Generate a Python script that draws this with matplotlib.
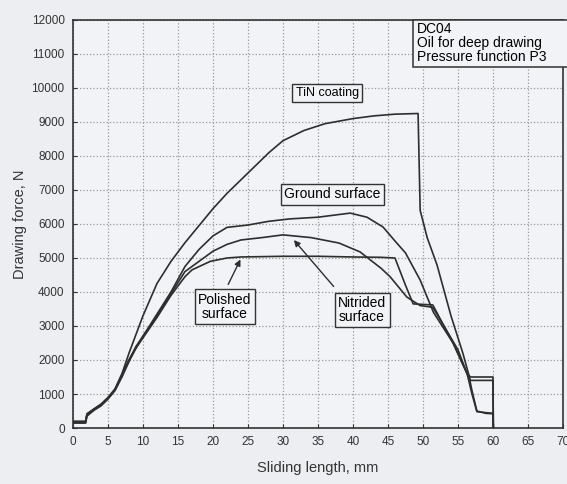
import numpy as np
import matplotlib.pyplot as plt
from matplotlib.patches import Rectangle

plt.rcParams['font.family'] = ['Liberation Sans', 'DejaVu Sans']

# sliding length (mm) / drawing force (N)
tin_x = [0, 1.8, 2.0, 3, 4, 5, 6, 7, 8, 9, 10, 12, 14, 16, 18, 20, 22, 24, 26, 28, 30,
         33, 36, 40, 43, 46, 49.3, 49.6, 50.6, 52, 54, 55.7, 56.5, 57, 57.7, 59, 60, 60.05]
tin_y = [200, 200, 420, 560, 700, 900, 1150, 1600, 2200, 2750, 3300, 4250, 4900, 5450, 5950,
         6450, 6900, 7300, 7700, 8100, 8450, 8750, 8950, 9100, 9180, 9230, 9250, 6400, 5600,
         4800, 3300, 2200, 1600, 1100, 500, 430, 420, 0]

ground_x = [0, 1.8, 2.0, 3, 4, 5, 6, 7, 8, 9, 10, 12, 14, 16, 18, 20, 22, 25, 28, 31, 35,
            39.6, 42, 44.3, 46, 47.5, 49.6, 51.5, 54.3, 56.3, 56.8, 60, 60.05]
ground_y = [150, 150, 350, 520, 650, 850, 1100, 1500, 1950, 2350, 2700, 3350, 4000, 4750,
            5250, 5650, 5900, 5970, 6080, 6150, 6200, 6320, 6200, 5910, 5500, 5150, 4350,
            3400, 2500, 1600, 1500, 1500, 0]

nitrided_x = [0, 1.8, 2.0, 3, 4, 5, 6, 7, 8, 9, 10, 12, 14, 16, 18, 20, 22, 24, 27, 30, 34,
              38, 41, 44, 45.3, 47.7, 49.6, 51.4, 53, 55, 56.3, 57, 57.7, 60, 60.05]
nitrided_y = [180, 180, 400, 560, 690, 880, 1130, 1560, 2000, 2400, 2700, 3300, 3950, 4600,
              4900, 5200, 5400, 5530, 5600, 5680, 5600, 5440, 5180, 4700, 4450, 3850, 3600,
              3550, 3000, 2300, 1600, 1000, 480, 430, 0]

polished_x = [0, 1.8, 2.0, 3, 4, 5, 6, 7, 8, 9, 10, 12, 14, 16, 17, 19.6, 22, 24, 30, 35,
              40, 44, 46, 47.5, 48.6, 51.4, 53, 54.3, 56.3, 56.8, 60, 60.05]
polished_y = [150, 150, 380, 540, 680, 880, 1120, 1550, 2000, 2350, 2650, 3250, 3900, 4450,
              4650, 4900, 5000, 5030, 5050, 5050, 5030, 5020, 5000, 4200, 3650, 3620, 3000,
              2500, 1600, 1400, 1400, 0]

x_ticks = np.arange(0, 75, 5)
y_ticks = np.arange(0, 13000, 1000)

fig = plt.figure(figsize=(5.67, 4.84), dpi=100, facecolor='#eceef2')
ax = fig.add_axes([0.1287, 0.1157, 0.8642, 0.843], facecolor='#f1f3f6')

lc = '#2e2e2e'
ax.plot(tin_x, tin_y, color=lc, lw=1.2)
ax.plot(ground_x, ground_y, color=lc, lw=1.2)
ax.plot(nitrided_x, nitrided_y, color=lc, lw=1.2)
ax.plot(polished_x, polished_y, color=lc, lw=1.2)

ax.set_xlim(0, 70)
ax.set_ylim(0, 12000)
ax.set_xticks(x_ticks)
ax.set_yticks(y_ticks)
ax.tick_params(direction='in', length=3, labelsize=8.5, colors='#333333')
ax.tick_params(axis='x', pad=6)
ax.tick_params(axis='y', pad=6)
ax.grid(True, color='#9a9a9a', linestyle=':', linewidth=0.9)
for s in ax.spines.values():
    s.set_color('#333333')
    s.set_linewidth(1.2)

ax.set_xlabel("Sliding length, mm", fontsize=10.5, color='#333333', labelpad=9)
ax.set_ylabel("Drawing force, N", fontsize=10.5, color='#333333', labelpad=3)

box = dict(boxstyle='square,pad=0.25', facecolor='#f1f3f6', edgecolor='#333333', lw=1)
ax.text(36.3, 9850, "TiN coating", fontsize=9, ha='center', va='center', bbox=box)
ax.text(37.1, 6880, "Ground surface", fontsize=10, ha='center', va='center', bbox=box)
ax.text(21.7, 3560, "Polished\nsurface", fontsize=10, ha='center', va='center',
        linespacing=1.0, bbox=box)
ax.text(41.3, 3470, "Nitrided\nsurface", fontsize=10, ha='center', va='center',
        linespacing=1.0, bbox=box)

arrow = dict(arrowstyle='-|>', color=lc, lw=1.0, mutation_scale=9)
ax.annotate("", xy=(24.1, 5030), xytext=(22.0, 4150), arrowprops=arrow)
ax.annotate("", xy=(31.3, 5590), xytext=(37.5, 4100), arrowprops=arrow)

# info box running off the right edge, top on the frame
ax.add_patch(Rectangle((48.6, 10620), 30, 1380, facecolor='#f1f3f6', edgecolor='#333333',
                       lw=1.1, clip_on=False, zorder=3))
ax.text(49.2, 11950, "DC04\nOil for deep drawing\nPressure function P3", fontsize=10,
        ha='left', va='top', linespacing=1.0, clip_on=False, zorder=4)

fig.savefig("out.png", dpi=100, facecolor=fig.get_facecolor())
